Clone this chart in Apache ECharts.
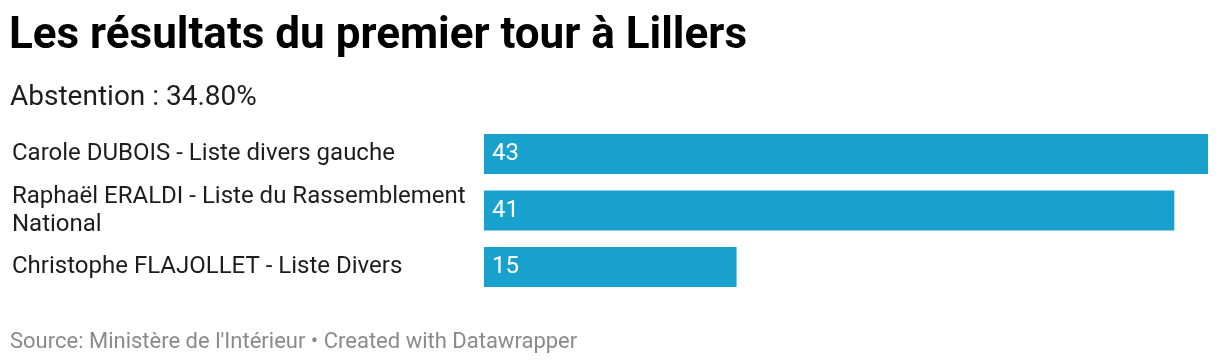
<!DOCTYPE html>
<html>
<head>
<meta charset="utf-8">
<script src="https://cdn.jsdelivr.net/npm/echarts@6/dist/echarts.min.js"></script>
<style>
html,body{margin:0;padding:0;background:#fff;}
#chart{width:1220px;height:364px;}
</style>
</head>
<body>
<div id="chart"></div>
<script>
const categories = [
  "Carole DUBOIS - Liste divers gauche",
  "Raphaël ERALDI - Liste du Rassemblement\nNational",
  "Christophe FLAJOLLET - Liste Divers"
];
const values = [43, 41, 15];
const titleText = "Les résultats du premier tour à Lillers";
const subtitleText = "Abstention : 34.80%";
const footerText = "Source: Ministère de l'Intérieur • Created with Datawrapper";

const chart = echarts.init(document.getElementById('chart'), null, {renderer: 'canvas'});
const font = 'Roboto, "Noto Sans", sans-serif';
chart.setOption({
  animation: false,
  backgroundColor: '#ffffff',
  title: [
    {text: titleText, left: 9, top: 15, padding: 0, textStyle: {fontFamily: font, fontSize: 44, fontWeight: 'bold', color: '#000'}},
    {text: subtitleText, left: 10, top: 84, padding: 0, textStyle: {fontFamily: font, fontSize: 28, fontWeight: 'normal', color: '#1d1d1d'}},
    {text: footerText, left: 10, top: 331, padding: 0, textStyle: {fontFamily: font, fontSize: 22, fontWeight: 'normal', color: '#8a8a8a'}}
  ],
  grid: {left: 484, right: 12, top: 125.75, bottom: 68.75, containLabel: false},
  xAxis: {type: 'value', min: 0, max: 43, show: false},
  yAxis: {
    type: 'category', data: categories, inverse: true,
    axisLine: {show: false}, axisTick: {show: false}, splitLine: {show: false},
    axisLabel: {align: 'left', margin: 472, fontFamily: font, fontSize: 24, color: '#1d1d1d', lineHeight: 28, padding: [9, 0, 0, 0]}
  },
  series: [{
    type: 'bar', data: values, barWidth: 40,
    itemStyle: {color: '#18a1cd'},
    label: {show: true, position: 'insideLeft', distance: 8, color: '#fff', fontFamily: font, fontSize: 24, padding: [7, 0, 0, 0]}
  }]
});
</script>
</body>
</html>
